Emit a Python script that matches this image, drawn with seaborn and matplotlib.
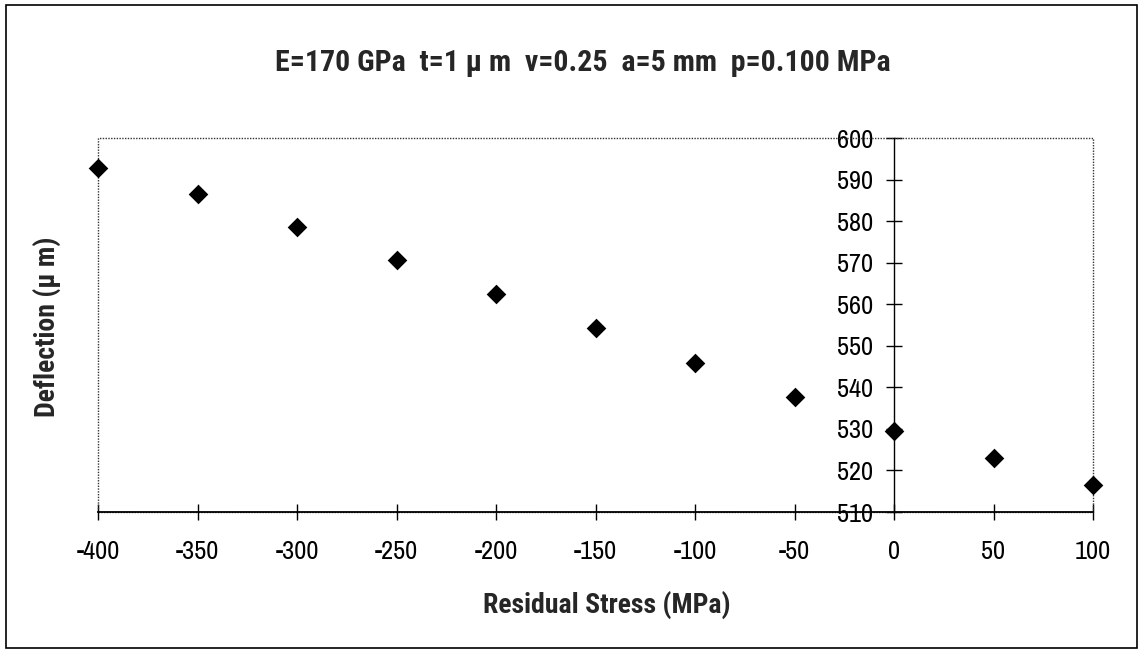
import matplotlib
matplotlib.use("Agg")
import matplotlib.pyplot as plt
import seaborn as sns
import pandas as pd
from matplotlib.patches import Rectangle
from matplotlib import font_manager

stress = [-400, -350, -300, -250, -200, -150, -100, -50, 0, 50, 100]
deflection = [592.9, 586.5, 578.6, 570.6, 562.5, 554.3, 545.9, 537.6, 529.6, 523.0, 516.4]
x_ticks = [-400, -350, -300, -250, -200, -150, -100, -50, 0, 50, 100]
y_ticks = [510, 520, 530, 540, 550, 560, 570, 580, 590, 600]

title = "E=170 GPa  t=1 \u03bc m  \u03bd=0.25  a=5 mm  p=0.100 MPa"
xlabel = "Residual Stress (MPa)"
ylabel = "Deflection (\u03bc m)"

sns.set_theme(style="white")

entries = font_manager.fontManager.ttflist
names = {f.name for f in entries}


def wnum(w):
    if isinstance(w, (int, float)):
        return w
    return {"bold": 700, "semibold": 600, "demibold": 600, "heavy": 800,
            "black": 900, "extra bold": 800}.get(str(w).lower(), 400)


def has_bold(name):
    return any(f.name == name and wnum(f.weight) >= 650 for f in entries)


regular_font = "Liberation Sans"
for cand in ["Liberation Sans Narrow", "Archivo Narrow", "Roboto Condensed",
             "Encode Sans Condensed", "Fira Sans Condensed"]:
    if cand in names:
        regular_font = cand
        break

bold_font = "Liberation Sans"
for cand in ["Liberation Sans Narrow", "Archivo Narrow", "Roboto Condensed",
             "Encode Sans Condensed", "Asap Condensed", "Fira Sans Condensed",
             "Barlow Semi Condensed", "Cabin Condensed", "Barlow Condensed"]:
    if cand in names and has_bold(cand):
        bold_font = cand
        break

plt.rcParams['font.family'] = [regular_font, 'DejaVu Sans']

df = pd.DataFrame({"stress": stress, "deflection": deflection})

fig = plt.figure(figsize=(11.43, 6.53), dpi=100)
ax = fig.add_axes([98/1143, 1 - 512/653, (1093-98)/1143, (512-138)/653])

sns.scatterplot(data=df, x="stress", y="deflection", marker="D", color="black",
                s=100, edgecolor="black", linewidth=0, ax=ax, clip_on=False, zorder=5)

ax.set_xlim(-400, 100)
ax.set_ylim(510, 600)
ax.set_xticks(x_ticks)
ax.set_yticks(y_ticks)
ax.set_xticklabels([str(v) for v in x_ticks])
ax.set_yticklabels([str(v) for v in y_ticks])
ax.set_xlabel("")
ax.set_ylabel("")

ax.spines['left'].set_position(('data', 0))
ax.spines['left'].set_color('black')
ax.spines['left'].set_linewidth(1.0)
ax.spines['bottom'].set_color('black')
ax.spines['bottom'].set_linewidth(1.3)
ax.spines['top'].set_visible(False)
ax.spines['right'].set_visible(False)

ax.add_patch(Rectangle((0, 0), 1, 1, transform=ax.transAxes, fill=False,
                       linestyle=(0, (1, 1)), linewidth=1.0, edgecolor="#333333",
                       clip_on=False, zorder=1))

ax.tick_params(axis='x', direction='inout', length=12, width=1, pad=14,
               labelsize=19, colors='black', bottom=True)
ax.tick_params(axis='y', direction='inout', length=12, width=1, pad=9,
               labelsize=19, colors='black', left=True)

bfam = [bold_font, 'DejaVu Sans']
fig.text(0.51, 0.903, title, ha='center', va='center', fontsize=21.5,
         fontweight='bold', family=bfam)
fig.text(0.531, 0.074, xlabel, ha='center', va='center', fontsize=20,
         fontweight='bold', family=bfam)
fig.text(0.041, 0.50, ylabel, ha='center', va='center', fontsize=20,
         fontweight='bold', rotation=90, family=bfam)

fig.patches.append(Rectangle((6/1143, 5/653), 1 - 12/1143, 1 - 10/653,
                             transform=fig.transFigure, fill=False,
                             edgecolor='black', linewidth=1.2))

fig.savefig("out.png", dpi=100, facecolor="white")
